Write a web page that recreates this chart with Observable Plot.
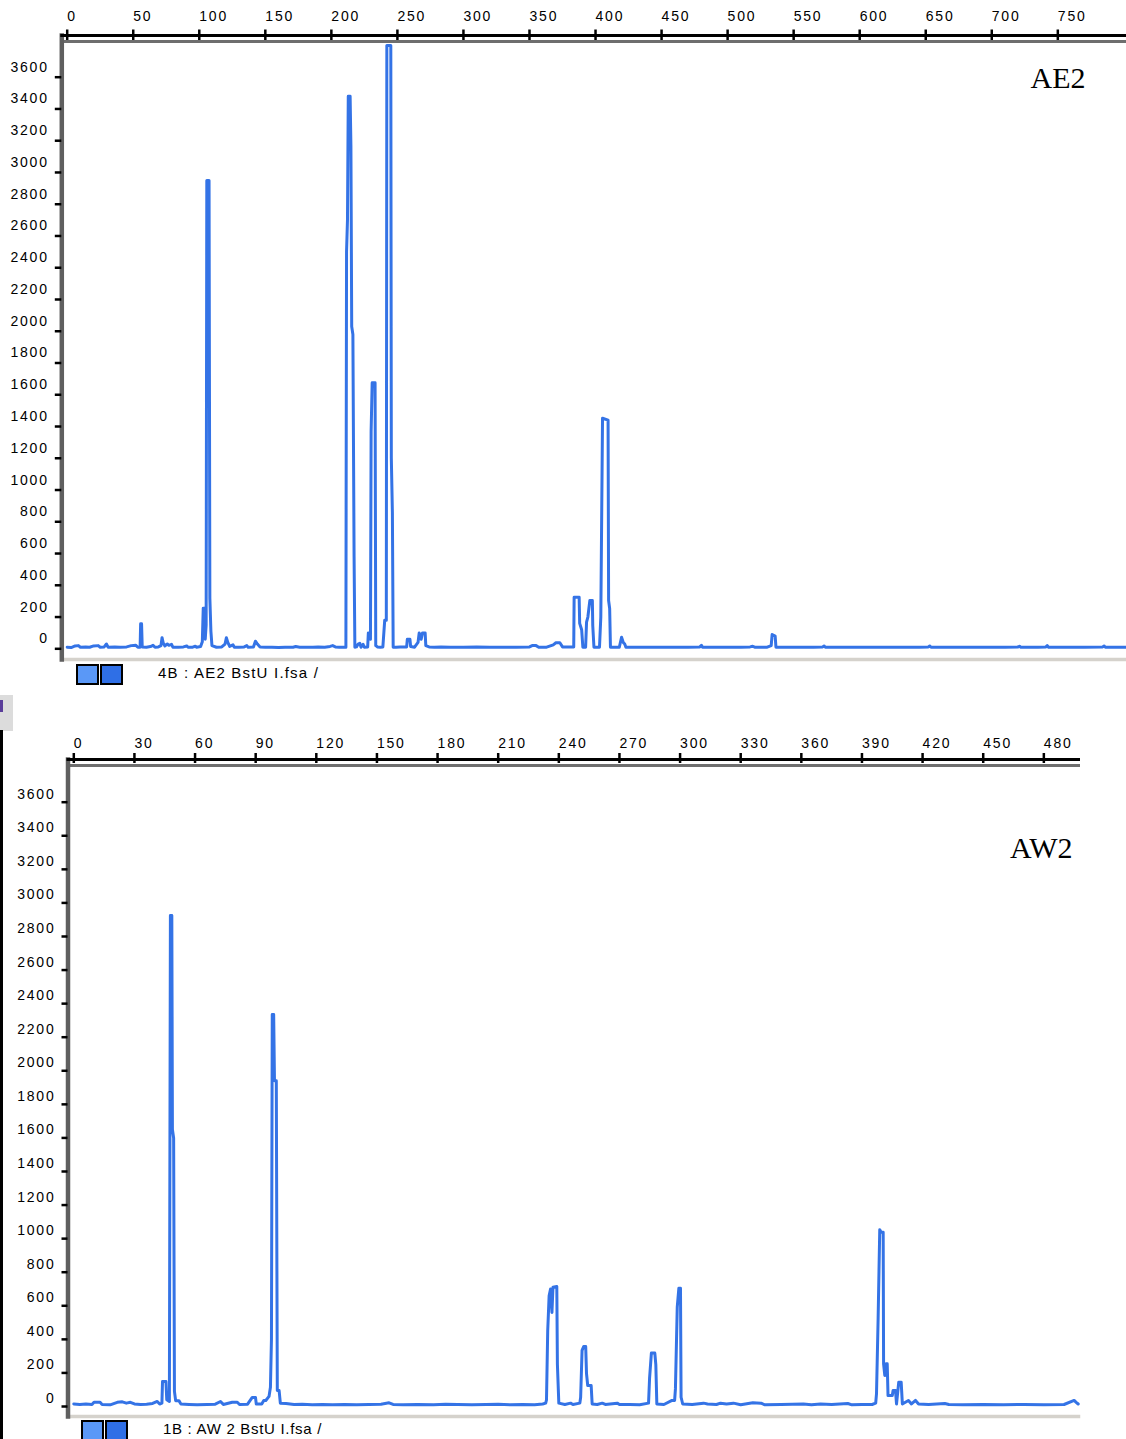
<!DOCTYPE html>
<html><head><meta charset="utf-8">
<script src="https://cdn.jsdelivr.net/npm/d3@7"></script>
<script src="https://cdn.jsdelivr.net/npm/@observablehq/plot@0.6"></script>
<style>
html,body{margin:0;padding:0;background:#fff;}
#wrap{position:relative;width:1126px;height:1439px;overflow:hidden;background:#fff;}
.panel{position:absolute;left:0;}
.panel svg{display:block;}
.panel svg g[aria-label="x-axis tick label"] text,.panel svg g[aria-label="y-axis tick label"] text{letter-spacing:1.8px;}
.legend{position:absolute;font-family:"Liberation Sans",Arial,sans-serif;font-size:15px;letter-spacing:1.2px;color:#000;line-height:15px;white-space:pre;}
.sq{position:absolute;box-sizing:border-box;border:2.5px solid #000;}
</style>
</head><body>
<div id="wrap">
  <div class="panel" id="p1" style="top:0px"></div>
  <div class="panel" id="p2" style="top:720px"></div>
  <div class="sq" style="left:76px;top:664px;width:23px;height:21px;background:#5a98f7"></div>
  <div class="sq" style="left:100px;top:664px;width:23px;height:21px;background:#2f6fe6"></div>
  <div class="legend" id="leg1" style="left:158px;top:665px"></div>
  <div style="position:absolute;left:0;top:695px;width:13px;height:36px;background:#dcdcdc"></div>
  <div style="position:absolute;left:0;top:700px;width:3px;height:12px;background:#5a3d9a"></div>
  <div style="position:absolute;left:0;top:730px;width:3px;height:709px;background:#000"></div>
  <div class="sq" style="left:81px;top:1420px;width:23px;height:21px;background:#5a98f7"></div>
  <div class="sq" style="left:105px;top:1420px;width:23px;height:21px;background:#2f6fe6"></div>
  <div class="legend" id="leg2" style="left:163px;top:1421px;letter-spacing:0.7px"></div>
</div>
<script>
// ---------- data ----------
const ae2Label = "AE2";
const aw2Label = "AW2";
const ae2File = "4B : AE2 BstU I.fsa /";
const aw2File = "1B : AW 2 BstU I.fsa /";

const ae2Ticks = [0,50,100,150,200,250,300,350,400,450,500,550,600,650,700,750];
const aw2Ticks = [0,30,60,90,120,150,180,210,240,270,300,330,360,390,420,450,480];
const signalTicks = [0,200,400,600,800,1000,1200,1400,1600,1800,2000,2200,2400,2600,2800,3000,3200,3400,3600];

const ae2Size = [0,3,6,8.5,10,14,17,20,23.5,25,28,29.7,31,36,40,45,48.5,52,53.5,55.2,55.6,56.3,56.8,60,63,65,66.5,69,71,71.8,72.6,74,75.8,77,79,80,84,88,90.5,91.5,95,97,98,101,102.3,103,103.9,104.5,105.2,105.7,107.4,108,108.8,109.6,113,117,119.5,120.5,121.6,123,125.5,126.5,130,134,136,137,141,142.5,144,146,150,155,160,165,171,173,176,181,186,190,195,199,201,203,206,211,211.5,212.2,212.8,214.2,214.8,215.4,216.3,217.2,217.8,219,220.3,221.5,222.5,224,225,227.5,228,229.6,230.1,230.9,233.1,233.6,235,237,239,240.4,241.6,242,245,245.4,246.2,246.8,249,252,257,257.5,259.5,260,263,265.6,266.5,268,269,271,271.5,274,278,283,290,300,310,320,330,340,350,352,355,357,363,368,370,373,375,379,383.5,383.8,387.6,388,389.5,390.4,392.5,393.2,394.2,395.7,397.6,397.9,398.8,403,404,405.3,409.5,409.9,410.7,411.3,418,419.7,421,422.1,423,430,440,450,460,470,479,480.2,481,490,500,510,517,519,520.5,530,533,533.7,536,536.6,545,555,565,572,573,574,585,600,615,630,645,652,653,654,665,680,695,710,720,721,722,735,741,742,743,755,770,784,785,786,795,802];
const ae2Signal = [10,8,18,20,10,12,10,18,20,10,12,30,10,12,10,12,20,22,10,10,157,157,12,10,14,22,10,12,20,70,40,18,30,22,28,10,10,12,18,10,10,16,10,14,45,256,256,60,150,2950,2950,320,110,20,10,12,30,70,40,15,25,10,10,12,20,10,12,48,30,12,10,10,8,10,10,14,10,10,10,12,10,15,20,12,10,10,2500,2700,3480,3480,3170,2030,1980,580,10,12,30,35,10,28,10,12,100,60,1370,1675,1675,20,12,10,12,180,180,3800,3800,1200,860,10,10,12,12,60,60,15,10,40,100,60,100,100,20,12,10,12,10,10,12,10,10,10,12,20,20,10,10,25,38,38,12,12,12,325,325,160,120,10,10,168,200,304,304,147,10,10,200,1452,1440,304,254,10,10,73,40,30,10,10,10,10,10,10,12,22,10,10,10,10,12,16,10,10,20,90,80,10,10,10,10,12,18,10,10,10,10,10,10,12,18,10,10,10,10,10,12,16,10,10,12,20,10,10,10,12,18,10,10,10];

const aw2Size = [0,3,6,9,10,13,14,18,21.5,24,26,28,30,33,36,39,41.3,42.5,43.6,43.9,45.6,46,47.3,47.8,48.5,48.8,49.4,49.8,50.4,52,53,57,61,66,70,72.6,74,78.4,80.9,82,86,88.3,89.9,90.3,93,94,95,96.6,97.3,97.8,98.2,98.9,99.3,100.2,100.7,101.6,102.2,105,109,113,118,123,128,134,140,146,152,156,158,163,170,178,184,190,197,204,210,216,222,228,232,233.5,233.9,234.5,235.2,235.9,236.6,237.1,239,239.3,240,243,245.8,247,250.4,250.8,251.5,252.3,253.3,253.7,254.3,256,256.5,259,261.5,263,268.9,270,275,280,284.4,284.9,285.8,287.5,288,288.5,292,296,297.3,297.7,298.6,299.4,300.2,300.5,301.3,306,311.6,313.6,318,320,323,326.4,330,336,340,342,350,361,365,369.5,375,383,385,390,395,396.8,397.2,398,398.8,399.5,400.5,400.7,401.3,402,402.5,402.9,405,405.4,406.6,407.1,408.2,409.4,410,413,414.5,416.5,418,423,431,433,440,450,460,470,480,490,495,496,497];
const aw2Signal = [15,12,15,12,25,25,12,10,25,28,20,25,15,12,14,18,30,15,20,149,149,40,30,2925,2925,1650,1600,90,35,35,15,12,10,12,14,30,12,25,25,12,14,54,54,15,15,36,36,60,115,400,2335,2335,1940,1940,95,95,20,18,12,14,10,12,10,12,10,12,14,22,12,10,12,10,14,12,10,12,14,10,12,10,15,20,40,450,660,700,560,710,715,250,20,12,20,12,20,55,334,357,357,196,125,125,15,12,20,12,20,12,12,10,20,167,318,318,250,15,12,36,36,105,592,705,705,55,15,12,20,15,12,20,15,20,10,22,20,10,12,15,10,15,12,18,10,12,12,20,77,524,1053,1038,1038,254,185,254,254,65,65,95,95,15,145,145,15,36,15,36,15,12,18,12,10,12,10,12,10,12,36,25,15];

// ---------- build ----------
const ae2Rows = ae2Size.map((v, i) => ({size: v, signal: ae2Signal[i]}));
const aw2Rows = aw2Size.map((v, i) => ({size: v, signal: aw2Signal[i]}));

const traceColor = "#3473e6";
const plain = d => String(d);
const baseStyle = {fontFamily: "Liberation Sans, Arial, sans-serif", fontSize: "14px", background: "transparent", overflow: "visible", color: "#000"};

const p1 = Plot.plot({
  width: 1126, height: 662,
  marginTop: 35, marginLeft: 61.3, marginRight: 0, marginBottom: 3,
  style: baseStyle,
  x: {domain: [0, 802], range: [66.7, 1126]},
  y: {domain: [0, 3600], range: [648.3, 76.7]},
  marks: [
    Plot.frame({anchor: "bottom", stroke: "#d5d2cc", strokeWidth: 3.5}),
    Plot.line(ae2Rows, {x: "size", y: "signal", stroke: traceColor, strokeWidth: 3}),
    Plot.frame({anchor: "top", insetTop: 6, stroke: "#6e6e6e", strokeWidth: 3}),
    Plot.frame({anchor: "left", stroke: "#5f5f5f", strokeWidth: 4.5}),
    Plot.frame({anchor: "top", stroke: "#000", strokeWidth: 3}),
    Plot.axisX(ae2Ticks, {anchor: "top", tickSize: 10.5, dy: 4, fill: "none", stroke: "#000", strokeWidth: 2.5, label: null}),
    Plot.axisX(ae2Ticks, {anchor: "top", tickSize: 0, tickPadding: 15, textAnchor: "start", tickFormat: plain, fill: "#000", label: null}),
    Plot.axisY(signalTicks, {anchor: "left", tickSize: 6.5, fill: "none", stroke: "#000", strokeWidth: 2.5, label: null}),
    Plot.axisY(signalTicks, {anchor: "left", tickSize: 0, tickPadding: 13, dy: -10, tickFormat: plain, fill: "#000", label: null}),
    Plot.text([ae2Label], {frameAnchor: "top-right", dx: -41, dy: 42.4, textAnchor: "end", lineAnchor: "middle", fontFamily: "Liberation Serif, Times New Roman, serif", fontSize: 30, fill: "#000"})
  ]
});
document.getElementById("p1").appendChild(p1);

const p2 = Plot.plot({
  width: 1126, height: 719,
  marginTop: 39, marginLeft: 67.5, marginRight: 48, marginBottom: 23,
  style: baseStyle,
  x: {domain: [0, 497], range: [73.3, 1077.7]},
  y: {domain: [0, 3600], range: [686, 81.7]},
  marks: [
    Plot.frame({anchor: "bottom", stroke: "#d5d2cc", strokeWidth: 3.5}),
    Plot.line(aw2Rows, {x: "size", y: "signal", stroke: traceColor, strokeWidth: 3}),
    Plot.frame({anchor: "top", insetTop: 6, stroke: "#6e6e6e", strokeWidth: 3}),
    Plot.frame({anchor: "left", stroke: "#5f5f5f", strokeWidth: 4.5}),
    Plot.frame({anchor: "top", stroke: "#000", strokeWidth: 3}),
    Plot.axisX(aw2Ticks, {anchor: "top", tickSize: 10, dy: 3, fill: "none", stroke: "#000", strokeWidth: 2.5, label: null}),
    Plot.axisX(aw2Ticks, {anchor: "top", tickSize: 0, tickPadding: 11.5, textAnchor: "start", tickFormat: plain, fill: "#000", label: null}),
    Plot.axisY(signalTicks, {anchor: "left", tickSize: 6, fill: "none", stroke: "#000", strokeWidth: 2.5, label: null}),
    Plot.axisY(signalTicks, {anchor: "left", tickSize: 0, tickPadding: 12.5, dy: -8, tickFormat: plain, fill: "#000", label: null}),
    Plot.text([aw2Label], {frameAnchor: "top-right", dx: -6, dy: 88.4, textAnchor: "end", lineAnchor: "middle", fontFamily: "Liberation Serif, Times New Roman, serif", fontSize: 30, fill: "#000"})
  ]
});
document.getElementById("p2").appendChild(p2);

document.getElementById("leg1").textContent = ae2File;
document.getElementById("leg2").textContent = aw2File;
</script>
</body></html>
